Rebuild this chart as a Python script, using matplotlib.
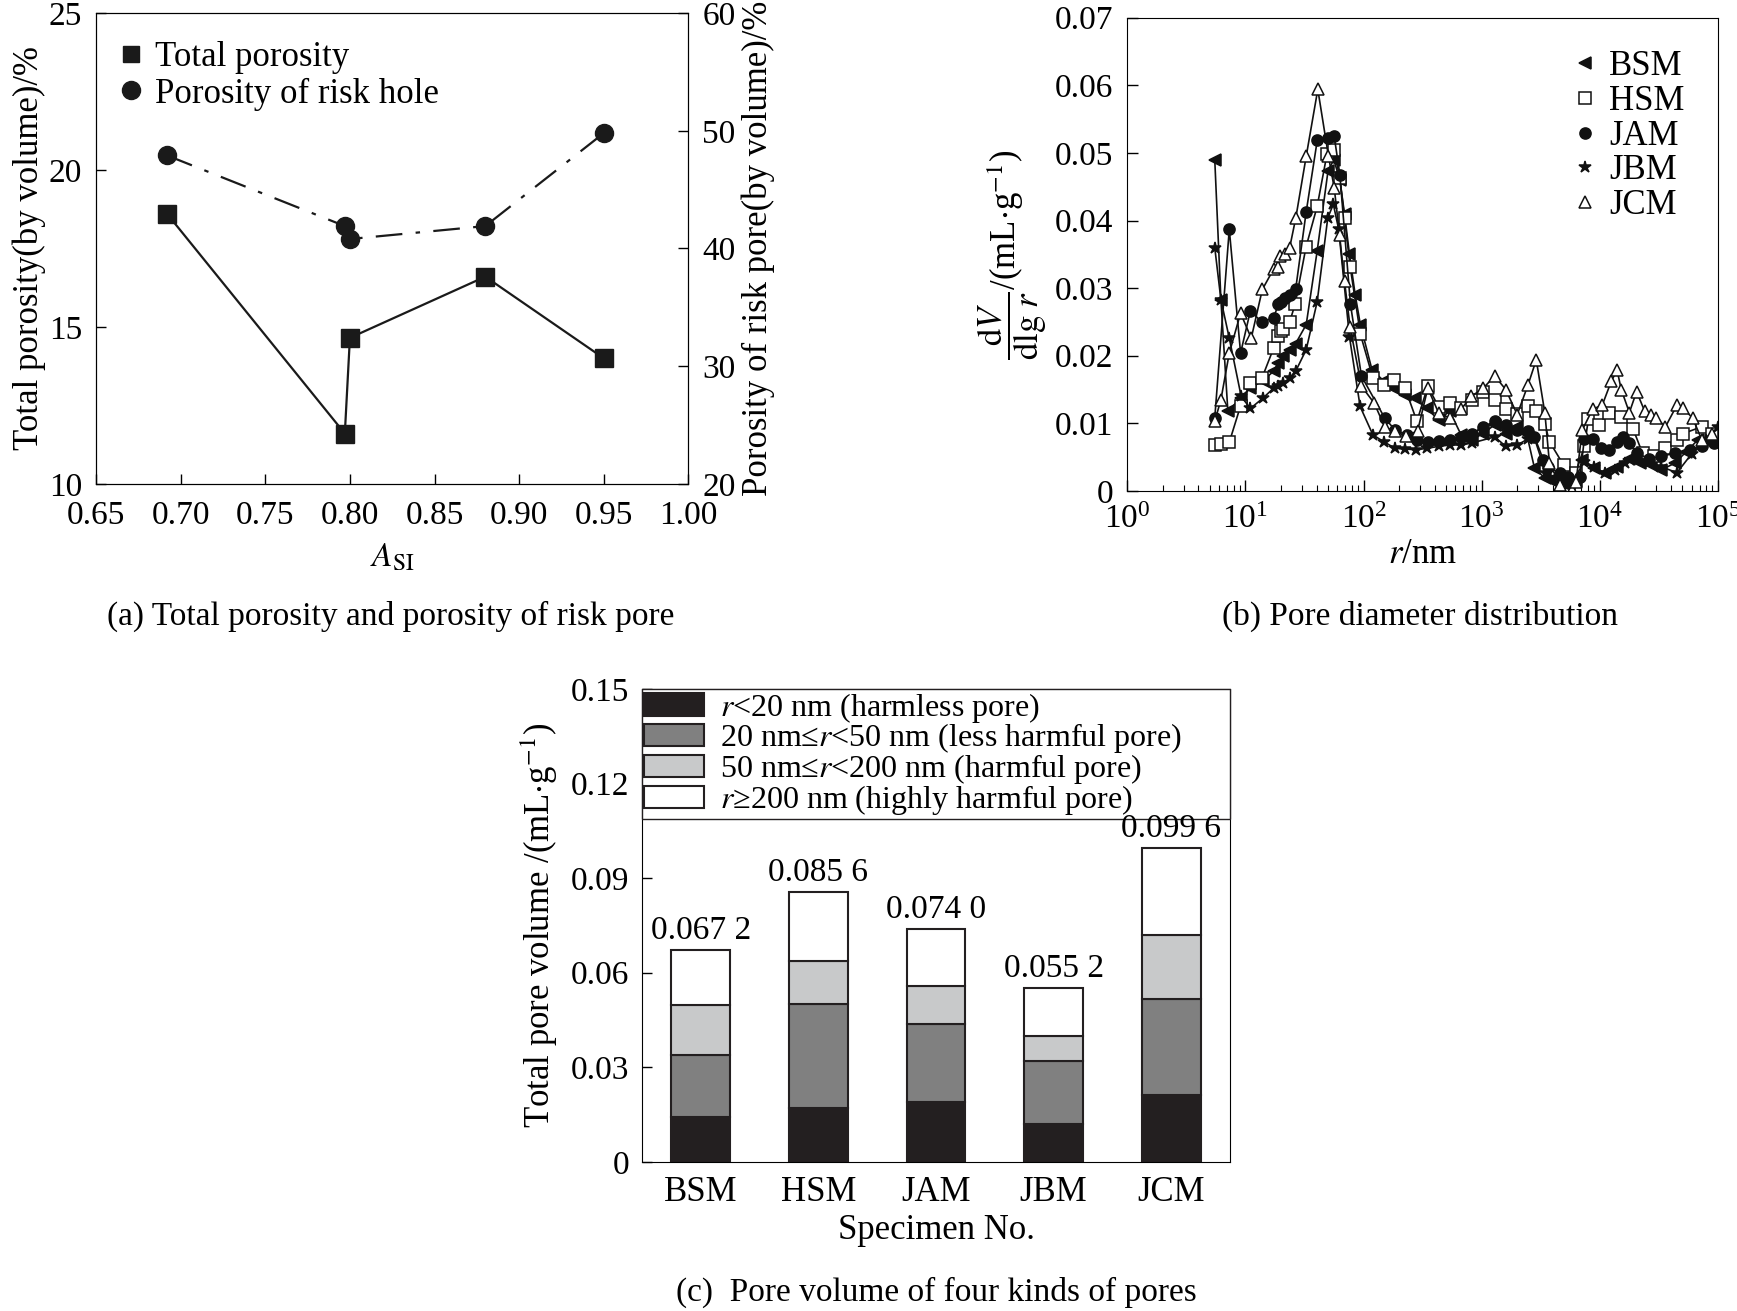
import matplotlib
matplotlib.use("Agg")
import matplotlib.pyplot as plt
import numpy as np
from matplotlib.ticker import LogLocator, NullFormatter, FuncFormatter

plt.rcParams['font.family'] = ['Liberation Serif', 'DejaVu Serif']
plt.rcParams['mathtext.fontset'] = 'stix'
plt.rcParams['font.size'] = 23

# ---- (a) 孔隙率 ----
asi = [0.692, 0.797, 0.800, 0.880, 0.950]
total_porosity = [18.6, 11.6, 14.65, 16.6, 14.0]
risk_porosity = [47.9, 41.9, 40.8, 41.9, 49.8]

# ---- (b) 孔径分布 ----
bsm_r = [5.5, 6.2, 7.1, 9.2, 11, 14, 17.3, 19, 21, 23.7, 26.6, 32.7, 40.5, 50,
         56, 63, 69, 76, 85, 94, 118, 150, 178, 226, 275, 343, 433, 536, 670,
         830, 1030, 1290, 1600, 2000, 2400, 2800, 3430, 3800, 4600, 5500, 6300,
         7100, 9000, 11000, 14000, 17800, 22000, 27000, 33000, 43000, 54000,
         68000, 93000]
bsm_v = [0.049, 0.0283, 0.0118, 0.0138, 0.0152, 0.0163, 0.0177, 0.019, 0.020,
         0.0208, 0.0218, 0.0246, 0.0355, 0.0473, 0.049, 0.046, 0.041, 0.035,
         0.029, 0.0246, 0.0179, 0.0162, 0.0152, 0.0142, 0.0137, 0.0122, 0.0105,
         0.0118, 0.0083, 0.0076, 0.0085, 0.0098, 0.0085, 0.0095, 0.0085, 0.0034,
         0.0019, 0.0016, 0.0012, 0.0008, 0.0015, 0.0046, 0.0034, 0.0026, 0.0036,
         0.0048, 0.0041, 0.0039, 0.0031, 0.0041, 0.0058, 0.0076, 0.008]

hsm_r = [5.5, 6.2, 7.3, 9.1, 11, 13.8, 17.3, 19, 19.9, 21, 23.7, 26.4, 32.6,
         40.5, 49, 56, 63, 69, 77, 94, 120, 150, 182, 225, 283, 350, 433, 540,
         670, 828, 1030, 1290, 1600, 2000, 2470, 2900, 3430, 3750, 4950, 6240,
         7420, 8000, 9800, 12000, 15200, 19200, 23000, 29000, 36000, 45000,
         51000, 73000, 90000]
hsm_v = [0.0068, 0.007, 0.0072, 0.0126, 0.016, 0.0167, 0.0211, 0.0229, 0.0236,
         0.024, 0.025, 0.0277, 0.0361, 0.0421, 0.0498, 0.0505, 0.0463, 0.0404,
         0.0332, 0.0232, 0.0167, 0.0157, 0.0164, 0.0152, 0.0103, 0.0155, 0.0124,
         0.013, 0.0122, 0.0135, 0.0146, 0.0135, 0.0121, 0.0114, 0.0126, 0.0119,
         0.0099, 0.0073, 0.0038, 0.0026, 0.0066, 0.0106, 0.0098, 0.0116, 0.011,
         0.0091, 0.0056, 0.0052, 0.0063, 0.0076, 0.0085, 0.0095, 0.0085]

jam_r = [5.5, 7.3, 9.1, 11, 13.8, 17.3, 19, 20.2, 21.8, 23.7, 26.6, 32.7, 40.6,
         50.5, 56.4, 63, 77.5, 96, 151, 185, 232, 283, 350, 433, 540, 670, 830,
         1030, 1290, 1600, 2000, 2470, 2800, 3330, 3660, 4600, 5400, 6800, 7400,
         8700, 10200, 12000, 14000, 15700, 17800, 20500, 26000, 33000, 43000,
         58000, 74000, 93000]
jam_v = [0.0108, 0.0387, 0.0204, 0.0266, 0.025, 0.0256, 0.0276, 0.028, 0.0285,
         0.029, 0.0298, 0.0413, 0.0519, 0.0522, 0.0525, 0.0468, 0.0276, 0.017,
         0.0108, 0.009, 0.0083, 0.0076, 0.0073, 0.0074, 0.0075, 0.008, 0.0085,
         0.0095, 0.0103, 0.0098, 0.009, 0.0088, 0.008, 0.0046, 0.0036, 0.0026,
         0.0021, 0.0021, 0.0077, 0.0077, 0.0063, 0.0061, 0.0073, 0.008, 0.0071,
         0.0056, 0.0048, 0.0051, 0.0056, 0.0061, 0.0066, 0.0071]

jbm_r = [5.5, 6.2, 7.3, 9.2, 11, 14, 17.3, 19, 21, 23.7, 26.6, 32.7, 40.5, 49.8,
         55.5, 61.6, 76, 93.5, 120, 148, 185, 226, 280, 343, 433, 540, 670, 830,
         1290, 1600, 2000, 2470, 2800, 3500, 4600, 5700, 7400, 9000, 11000,
         13500, 16500, 20500, 26000, 33000, 45000, 60000, 80000, 100000]
jbm_v = [0.036, 0.0283, 0.0226, 0.014, 0.0122, 0.0137, 0.0152, 0.0155, 0.016,
         0.0167, 0.0177, 0.0209, 0.028, 0.0404, 0.0424, 0.0387, 0.0228, 0.0125,
         0.0083, 0.0073, 0.0063, 0.0062, 0.0061, 0.0063, 0.0066, 0.0068, 0.0068,
         0.0071, 0.008, 0.0066, 0.0068, 0.0077, 0.0078, 0.0026, 0.0016, 0.0011,
         0.0043, 0.0036, 0.0026, 0.0031, 0.0041, 0.0046, 0.0043, 0.0036, 0.0027,
         0.0055, 0.0075, 0.0095]

jcm_r = [5.5, 6.2, 7.3, 9.1, 11.2, 13.9, 17.3, 19, 19.8, 21.8, 23.7, 26.7, 32.7,
         41, 50.5, 56.5, 62.6, 69, 77, 96, 123, 151, 185, 230, 287, 350, 433,
         540, 670, 820, 1030, 1290, 1600, 2000, 2470, 2900, 3430, 3750, 4600,
         5800, 6300, 7100, 8700, 10500, 12500, 14000, 15200, 17800, 20500, 24000,
         27000, 30000, 36000, 45000, 51000, 61000, 73000, 90000]
jcm_v = [0.0103, 0.0135, 0.0204, 0.0263, 0.0226, 0.0298, 0.0328, 0.0332, 0.0347,
         0.035, 0.036, 0.0404, 0.0495, 0.0594, 0.0495, 0.0448, 0.0379, 0.031,
         0.0242, 0.0155, 0.013, 0.0095, 0.0088, 0.0081, 0.0089, 0.0152, 0.0115,
         0.0108, 0.0121, 0.014, 0.0152, 0.017, 0.015, 0.0113, 0.0157, 0.0194,
         0.0115, 0.0041, 0.0009, 0.0001, 0.0014, 0.009, 0.0121, 0.0127, 0.0162,
         0.0179, 0.015, 0.0116, 0.0147, 0.0118, 0.0113, 0.0108, 0.0095, 0.0127,
         0.0122, 0.0108, 0.0076, 0.0085]

# ---- (c) 孔体积 ----
specimens = ['BSM', 'HSM', 'JAM', 'JBM', 'JCM']
harmless = [0.0141, 0.0171, 0.0190, 0.0121, 0.0211]
less_harmful = [0.0198, 0.0329, 0.0248, 0.0198, 0.0307]
harmful = [0.0159, 0.0138, 0.0120, 0.0079, 0.0203]
total_volume = [0.0672, 0.0856, 0.0740, 0.0552, 0.0996]
total_labels = ['0.067 2', '0.085 6', '0.074 0', '0.055 2', '0.099 6']

fig = plt.figure(figsize=(17.37, 13.11), dpi=100)

# (a)
ax1 = fig.add_axes([0.0553, 0.631, 0.341, 0.359])
ax1.plot(asi, total_porosity, color='#1a1a1a', lw=1.6, marker='s', ms=13)
ax1.set_xlim(0.65, 1.00)
ax1.set_ylim(10, 25)
ax1.set_xticks(np.arange(0.65, 1.001, 0.05))
ax1.set_yticks([10, 15, 20, 25])
ax1.xaxis.set_major_formatter(FuncFormatter(lambda v, p: f'{v:.2f}'))
ax1.tick_params(direction='in', length=7, width=1, labelsize=24, pad=10)
ax1.tick_params(axis='x', pad=12)
ax1.set_xlabel(r'$A_{\mathrm{SI}}$', fontsize=24, labelpad=8)
ax1.set_ylabel('Total porosity(by volume)/%', fontsize=25, labelpad=2)
ax2 = ax1.twinx()
ax2.plot(asi, risk_porosity, color='#1a1a1a', lw=1.6, ls=(0, (12, 6, 2, 6)),
         marker='o', ms=13)
ax2.set_ylim(20, 60)
ax2.set_yticks([20, 30, 40, 50, 60])
ax2.tick_params(direction='in', length=7, width=1, labelsize=24, pad=10)
ax2.set_ylabel('Porosity of risk pore(by volume)/%', fontsize=25, labelpad=4)
h1 = ax1.plot([], [], 's', color='#1a1a1a', ms=12)[0]
h2 = ax1.plot([], [], 'o', color='#1a1a1a', ms=13)[0]
ax1.legend([h1, h2], ['Total porosity', 'Porosity of risk hole'], loc='upper left',
           frameon=False, fontsize=25, handlelength=0.8, handletextpad=0.3,
           borderaxespad=0.2, labelspacing=0.1, bbox_to_anchor=(0.0, 0.985))
fig.text(0.225, 0.530, '(a) Total porosity and porosity of risk pore',
         ha='center', va='center', fontsize=24)

# (b)
ax3 = fig.add_axes([0.649, 0.6255, 0.340, 0.361])
series = [('BSM', bsm_r, bsm_v, '<', '#111111'),
          ('HSM', hsm_r, hsm_v, 's', 'white'),
          ('JAM', jam_r, jam_v, 'o', '#111111'),
          ('JBM', jbm_r, jbm_v, '*', '#111111'),
          ('JCM', jcm_r, jcm_v, '^', 'white')]
for name, rr, vv, mk, fc in series:
    ms = 9 if mk == '*' else 8
    ax3.plot(rr, vv, color='#111111', lw=1.2, marker=mk, ms=ms,
             mfc=fc, mec='#111111', mew=1.1, label=name)
ax3.set_xscale('log')
ax3.set_xlim(1, 1e5)
ax3.set_ylim(0, 0.07)
ax3.set_yticks(np.arange(0, 0.0701, 0.01))
ax3.yaxis.set_major_formatter(FuncFormatter(lambda v, p: '0' if v == 0 else f'{v:.2f}'))
ax3.xaxis.set_major_locator(LogLocator(base=10, numticks=12))
ax3.xaxis.set_minor_locator(LogLocator(base=10, subs=np.arange(2, 10), numticks=12))
ax3.xaxis.set_minor_formatter(NullFormatter())
ax3.tick_params(which='major', direction='in', length=8, width=1, labelsize=24, pad=10)
ax3.tick_params(which='minor', direction='in', length=4, width=0.8)
ax3.set_xlabel(r'$r$/nm', fontsize=25, labelpad=2)
ax3.set_ylabel(r'$\dfrac{\mathrm{d}V}{\mathrm{dlg}\ r}$/(mL$\cdot$g$^{-1}$)',
               fontsize=25, labelpad=4)
ax3.legend(loc='upper right', frameon=False, fontsize=25, handlelength=0.6,
           handletextpad=0.4, labelspacing=0.05, borderaxespad=0.4,
           bbox_to_anchor=(0.99, 0.99))
for line in ax3.get_legend().get_lines():
    line.set_linestyle('none')
fig.text(0.8177, 0.530, '(b) Pore diameter distribution', ha='center',
         va='center', fontsize=24)

# (c)
ax4 = fig.add_axes([0.3696, 0.1137, 0.3385, 0.3608])
x = np.arange(len(specimens))
bottom = np.zeros(len(specimens))
highly = np.array(total_volume) - np.array(harmless) - np.array(less_harmful) - np.array(harmful)
parts = [(harmless, '#231f20', r'$r$<20 nm (harmless pore)'),
         (less_harmful, '#808080', r'20 nm≤$r$<50 nm (less harmful pore)'),
         (harmful, '#c8c9ca', r'50 nm≤$r$<200 nm (harmful pore)'),
         (highly, 'white', r'$r$≥200 nm (highly harmful pore)')]
for vals, col, lab in parts:
    ax4.bar(x, vals, 0.5, bottom=bottom, color=col, edgecolor='#231f20',
            linewidth=1.5, label=lab)
    bottom = bottom + np.array(vals)
for xi, tv, lab in zip(x, total_volume, total_labels):
    ax4.text(xi, tv + 0.0012, lab, ha='center', va='bottom', fontsize=24, zorder=8)
ax4.set_xlim(-0.5, 4.5)
ax4.set_ylim(0, 0.15)
ax4.set_yticks(np.arange(0, 0.1501, 0.03))
ax4.yaxis.set_major_formatter(FuncFormatter(lambda v, p: '0' if v == 0 else f'{v:.2f}'))
ax4.set_xticks(x)
ax4.set_xticklabels(specimens)
ax4.tick_params(axis='y', direction='in', length=7, width=1, labelsize=24, pad=9)
ax4.tick_params(axis='x', length=0, labelsize=25, pad=10)
ax4.set_xlabel('Specimen No.', fontsize=25, labelpad=4)
ax4.set_ylabel(r'Total pore volume /(mL$\cdot$g$^{-1}$)', fontsize=25, labelpad=8)
leg = ax4.legend(loc='upper left', bbox_to_anchor=(0, 0, 1, 1), mode='expand',
                 borderaxespad=0, fontsize=23, handlelength=1.9, handleheight=0.7,
                 handletextpad=0.5, labelspacing=-0.1, fancybox=False,
                 edgecolor='#231f20', framealpha=1, borderpad=0.05)
leg.get_frame().set_linewidth(1.0)
leg.set_zorder(4)
fig.text(0.539, 0.0146, '(c)  Pore volume of four kinds of pores', ha='center',
         va='center', fontsize=24)

fig.savefig('out.png', dpi=100)
